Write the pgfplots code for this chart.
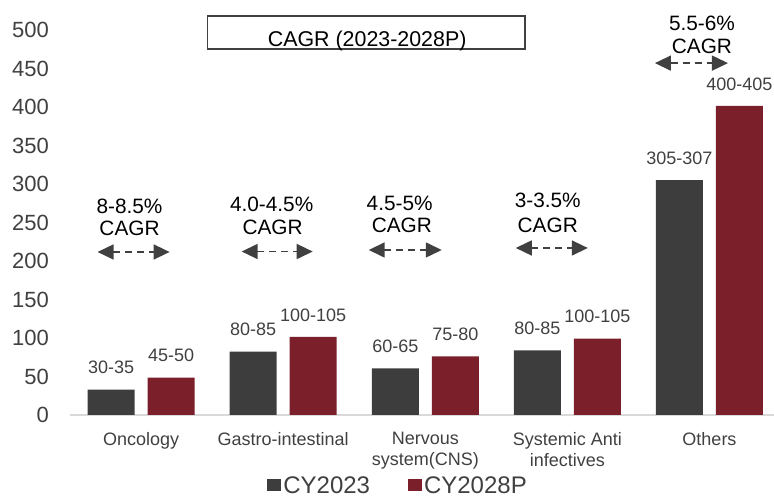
\documentclass[border=0pt]{standalone}
\usepackage{pgfplots}
\pgfplotsset{compat=1.18}
\usepackage{pgfplotstable}
\usepackage{fontspec}
\setmainfont{Liberation Sans}
\usetikzlibrary{arrows.meta}
\definecolor{bardark}{HTML}{3D3D3D}
\definecolor{barred}{HTML}{7B1F2A}
\definecolor{txtgray}{HTML}{404040}
\definecolor{axgray}{HTML}{D9D9D9}

\pgfplotstableread{
x y label
0 33 30-35
1 82.2 80-85
2 60.6 60-65
3 84 80-85
4 305 305-307
}\cyA
\pgfplotstableread{
x y label
0 48.5 45-50
1 101.3 100-105
2 76.2 75-80
3 99.1 100-105
4 401.3 400-405
}\cyB

\begin{document}
\begin{tikzpicture}
\path[use as bounding box] (-70pt,-82pt) rectangle (704pt,415pt);
\begin{axis}[
  at={(0,0)}, anchor=south west,
  scale only axis,
  width=704pt, height=385pt,
  xmin=-0.5, xmax=4.454,
  ymin=0, ymax=500,
  clip=false,
  ybar=13pt, bar width=47pt,
  axis lines*=left,
  y axis line style={draw=none},
  x axis line style={draw=axgray, line width=1.7pt, -},
  major tick length=0pt,
  ytick={0,50,...,500},
  xtick={0,1,2,3,4},
  xticklabels={Oncology, Gastro-intestinal, {Nervous\\system(CNS)}, {Systemic Anti\\infectives}, Others},
  /pgf/number format/assume math mode=true,
  yticklabel style={font=\fontsize{22}{26}\selectfont, text=txtgray, anchor=east, inner sep=0pt, xshift=-21pt},
  xticklabel style={font=\fontsize{18}{21}\selectfont, text=txtgray, anchor=north, align=center, inner sep=0pt, yshift=-17pt},
  nodes near coords,
  point meta=explicit symbolic,
  every node near coord/.append style={font=\fontsize{18}{21}\selectfont, text=txtgray, inner sep=0pt, yshift=15.5pt, anchor=south},
  legend columns=2,
  legend style={at={(rel axis cs:0.466,-0.183)}, anchor=center, draw=none, fill=none,
    font=\fontsize{24}{27}\selectfont, text=txtgray,
    /tikz/every even column/.append style={column sep=36pt}},
  legend image code/.code={\fill[#1] (0pt,-6pt) rectangle (14pt,6pt);},
]
\addplot[fill=bardark, draw=none] table[x=x, y=y, meta=label] {\cyA};
\addplot[fill=barred, draw=none] table[x=x, y=y, meta=label] {\cyB};
\legend{CY2023, CY2028P}

% title box
\draw[txtgray, line width=1.5pt] (axis cs:0.468,475.3) rectangle (axis cs:2.701,518.2);
\node[anchor=base, inner sep=0pt, font=\fontsize{21.4}{24}\selectfont] at (axis cs:1.591,478.3) {CAGR (2023-2028P)};

% CAGR annotations
\tikzset{cagr/.style={inner sep=0pt, anchor=center, font=\fontsize{20.8}{24}\selectfont, text=black},
  cagrarrow/.style={txtgray, line width=1.6pt, dash pattern=on 7pt off 5pt,
    {Triangle[length=16pt,width=15pt]}-{Triangle[length=16pt,width=15pt]}}}
\node[cagr] at (axis cs:-0.081,271.4) {8-8.5\%};
\node[cagr] at (axis cs:-0.081,242.9) {CAGR};
\draw[cagrarrow] (axis cs:-0.306,211.7) -- (axis cs:0.201,211.7);

\node[cagr] at (axis cs:0.919,274) {4.0-4.5\%};
\node[cagr] at (axis cs:0.926,243.5) {CAGR};
\draw[cagrarrow] (axis cs:0.708,212.3) -- (axis cs:1.208,212.3);

\node[cagr] at (axis cs:1.820,275.3) {4.5-5\%};
\node[cagr] at (axis cs:1.835,246.8) {CAGR};
\draw[cagrarrow] (axis cs:1.602,214.3) -- (axis cs:2.116,214.3);

\node[cagr] at (axis cs:2.862,278.3) {3-3.5\%};
\node[cagr] at (axis cs:2.862,246.8) {CAGR};
\draw[cagrarrow] (axis cs:2.637,216.9) -- (axis cs:3.144,216.9);

\node[cagr] at (axis cs:3.947,509) {5.5-6\%};
\node[cagr] at (axis cs:3.947,479) {CAGR};
\draw[cagrarrow] (axis cs:3.616,457) -- (axis cs:4.130,457);
\end{axis}
\end{tikzpicture}
\end{document}
